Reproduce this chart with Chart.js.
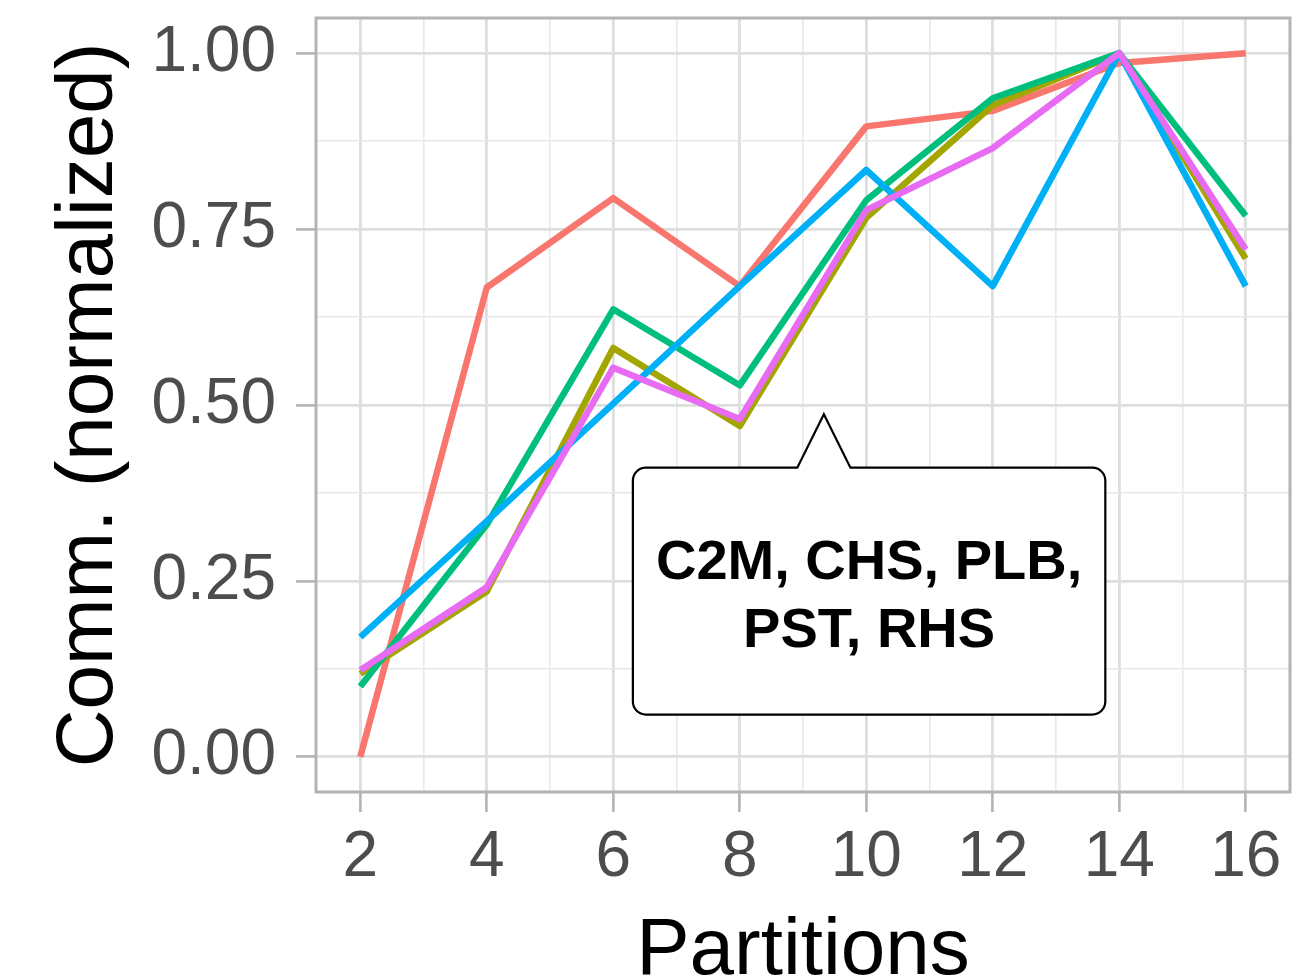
<!DOCTYPE html>
<html>
<head>
<meta charset="utf-8">
<script src="https://cdn.jsdelivr.net/npm/chart.js@4/dist/chart.umd.min.js"></script>
<style>
  html, body { margin: 0; padding: 0; background: #ffffff; }
  #wrap { width: 1302px; height: 980px; }
</style>
</head>
<body>
<div id="wrap"><canvas id="c" width="1302" height="980"></canvas></div>
<script>
// ---- data ----
const partitions = [2, 4, 6, 8, 10, 12, 14, 16];
const seriesNames = ["C2M", "CHS", "PLB", "PST", "RHS"];
const c2m = [0.000, 0.667, 0.794, 0.669, 0.896, 0.918, 0.986, 1.000];
const chs = [0.118, 0.235, 0.581, 0.470, 0.766, 0.926, 1.000, 0.708];
const plb = [0.100, 0.330, 0.636, 0.528, 0.791, 0.936, 1.000, 0.769];
const pst = [0.170, 0.335, 0.502, 0.669, 0.834, 0.669, 1.000, 0.669];
const rhs = [0.123, 0.241, 0.553, 0.480, 0.777, 0.865, 1.000, 0.721];
const xTickValues = [2, 4, 6, 8, 10, 12, 14, 16];
const yTickValues = [0, 0.25, 0.5, 0.75, 1.0];
const yTickLabels = ["0.00", "0.25", "0.50", "0.75", "1.00"];
const calloutLines = ["C2M, CHS, PLB,", "PST, RHS"];

const seriesValues = [c2m, chs, plb, pst, rhs];
const colors = ["#F8766D", "#A3A500", "#00BF7D", "#00B0F6", "#E76BF3"];

const FONT = "'Liberation Sans', Arial, Helvetica, sans-serif";

const datasets = seriesValues.map((vals, i) => ({
  label: seriesNames[i],
  data: partitions.map((p, j) => ({ x: p, y: vals[j] })),
  borderColor: colors[i],
  backgroundColor: colors[i],
  borderWidth: 6.5,
  pointRadius: 0,
  tension: 0,
  fill: false,
  borderJoinStyle: 'round',
  borderCapStyle: 'butt',
  order: seriesValues.length - 1 - i
}));

function isMajor(vals, v) {
  return vals.some(t => Math.abs(t - v) < 1e-9);
}

const panelPlugin = {
  id: 'panel',
  beforeDatasetsDraw(chart) {
    const a = chart.chartArea, ctx = chart.ctx;
    ctx.save();
    ctx.strokeStyle = '#b3b3b3';
    ctx.lineWidth = 3;
    ctx.strokeRect(a.left, a.top, a.right - a.left, a.bottom - a.top);
    ctx.restore();
  }
};

// speech-bubble annotation placed in data coordinates
const calloutPlugin = {
  id: 'callout',
  afterDatasetsDraw(chart, args, o) {
    const xs = chart.scales.x, ys = chart.scales.y, ctx = chart.ctx;
    const L = xs.getPixelForValue(o.x0), R = xs.getPixelForValue(o.x1);
    const T = ys.getPixelForValue(o.y1), B = ys.getPixelForValue(o.y0);
    const ax = xs.getPixelForValue(o.apexX), ay = ys.getPixelForValue(o.apexY);
    const bl = xs.getPixelForValue(o.baseL), br = xs.getPixelForValue(o.baseR);
    const r = 13;
    ctx.save();
    ctx.beginPath();
    ctx.moveTo(L + r, T);
    ctx.lineTo(bl, T);
    ctx.lineTo(ax, ay);
    ctx.lineTo(br, T);
    ctx.lineTo(R - r, T);
    ctx.arcTo(R, T, R, T + r, r);
    ctx.lineTo(R, B - r);
    ctx.arcTo(R, B, R - r, B, r);
    ctx.lineTo(L + r, B);
    ctx.arcTo(L, B, L, B - r, r);
    ctx.lineTo(L, T + r);
    ctx.arcTo(L, T, L + r, T, r);
    ctx.closePath();
    ctx.fillStyle = '#ffffff';
    ctx.fill();
    ctx.lineWidth = 2.2;
    ctx.strokeStyle = '#000000';
    ctx.lineJoin = 'miter';
    ctx.stroke();
    ctx.fillStyle = '#000000';
    ctx.font = 'bold 56px ' + FONT;
    ctx.textAlign = 'center';
    ctx.textBaseline = 'alphabetic';
    const cx = (L + R) / 2;
    const mid = (T + B) / 2;
    const lh = 68;
    const n = o.lines.length;
    o.lines.forEach((s, k) => {
      const base = mid + (k - (n - 1) / 2) * lh + 22;
      ctx.fillText(s, cx, base);
    });
    ctx.restore();
  }
};

new Chart(document.getElementById('c'), {
  type: 'line',
  data: { datasets },
  plugins: [panelPlugin, calloutPlugin],
  options: {
    responsive: false,
    animation: false,
    devicePixelRatio: 1,
    layout: { padding: { left: 0, right: 12, top: 18, bottom: 0 } },
    plugins: {
      legend: { display: false },
      tooltip: { enabled: false },
      callout: {
        x0: 6.31, x1: 13.78, y0: 0.060, y1: 0.411,
        apexX: 9.33, apexY: 0.487, baseL: 8.91, baseR: 9.75,
        lines: calloutLines
      }
    },
    scales: {
      x: {
        type: 'linear',
        min: 1.3, max: 16.7,
        afterBuildTicks(s) {
          const t = [];
          for (let v = 2; v <= 16; v += 1) t.push({ value: v });
          s.ticks = t;
        },
        afterFit(s) {
          s.height = 188;
          s.paddingLeft = 0; s.paddingRight = 0;
          s.paddingTop = 0; s.paddingBottom = 0;
        },
        ticks: {
          autoSkip: false, maxRotation: 0, minRotation: 0,
          padding: 8,
          color: '#4d4d4d',
          font: { family: FONT, size: 64 },
          callback: (v) => isMajor(xTickValues, v) ? String(v) : ''
        },
        grid: {
          drawOnChartArea: true,
          drawTicks: true,
          tickLength: 20,
          color: (c) => isMajor(xTickValues, c.tick.value) ? '#dedede' : '#e8e8e8',
          lineWidth: (c) => isMajor(xTickValues, c.tick.value) ? 2.8 : 1.5,
          tickColor: (c) => isMajor(xTickValues, c.tick.value) ? '#b3b3b3' : 'rgba(0,0,0,0)',
          tickWidth: 2.6
        },
        border: { display: false },
        title: {
          display: true, text: 'Partitions', color: '#000000',
          font: { family: FONT, size: 80, lineHeight: 0.7 },
          padding: { top: 0, bottom: 0 }
        }
      },
      y: {
        type: 'linear',
        min: -0.05, max: 1.05,
        afterBuildTicks(s) {
          const t = [];
          for (let k = 0; k <= 8; k++) t.push({ value: k * 0.125 });
          s.ticks = t;
        },
        afterFit(s) {
          s.width = 316;
          s.paddingLeft = 0; s.paddingRight = 0;
          s.paddingTop = 0; s.paddingBottom = 0;
        },
        ticks: {
          autoSkip: false,
          padding: 20,
          color: '#4d4d4d',
          font: { family: FONT, size: 64 },
          callback: (v) => {
            const i = yTickValues.findIndex(t => Math.abs(t - v) < 1e-9);
            return i >= 0 ? yTickLabels[i] : '';
          }
        },
        grid: {
          drawOnChartArea: true,
          drawTicks: true,
          tickLength: 20,
          color: (c) => isMajor(yTickValues, c.tick.value) ? '#dedede' : '#e8e8e8',
          lineWidth: (c) => isMajor(yTickValues, c.tick.value) ? 2.8 : 1.5,
          tickColor: (c) => isMajor(yTickValues, c.tick.value) ? '#b3b3b3' : 'rgba(0,0,0,0)',
          tickWidth: 2.6
        },
        border: { display: false },
        title: {
          display: true, text: 'Comm. (normalized)', color: '#000000',
          font: { family: FONT, size: 80, lineHeight: 1 },
          padding: { top: 50, bottom: 0 }
        }
      }
    }
  }
});
</script>
</body>
</html>
